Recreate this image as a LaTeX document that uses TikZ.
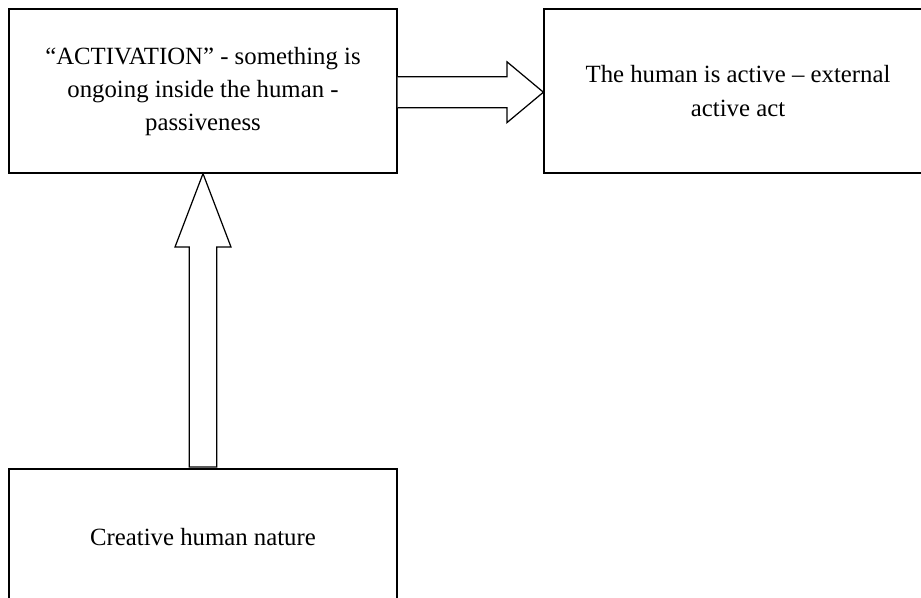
\documentclass[tikz,border=0pt]{standalone}
\usepackage{fontspec}
\setmainfont{Liberation Serif}
\usetikzlibrary{calc, positioning}

\tikzset{
  box/.style={draw, line width=0.7pt, minimum width=7.76cm, minimum height=3.28cm,
    align=center, font=\fontsize{14.1}{18.8}\selectfont},
  blockarrow/.style={draw, line width=0.7pt, fill=white, line join=miter}
}

\begin{document}
\begin{tikzpicture}
    \useasboundingbox (0,0) rectangle (18.42,-11.94);
    %箱を置く
    \node[box] (passive) at (4.06,-1.82) {\raisebox{0.1cm}{\begin{tabular}{@{}c@{}}``ACTIVATION'' - something is\\ ongoing inside the human -\\ passiveness\end{tabular}}};
    \node[box] (active) at (14.76,-1.82) {The human is active -- external\\ active act};
    \node[box, minimum height=2.72cm] (nature) at (4.06,-10.74) {Creative human nature};
    %横の矢印
    \coordinate (r1) at ($(passive.east)+(0,-0.024)$);
    \coordinate (r2) at ($(active.west)+(0,-0.024)$);
    \draw[blockarrow] ($(r1)+(0,0.31)$) -- ($(r2)+(-0.726,0.31)$) -- ($(r2)+(-0.726,0.606)$)
      -- (r2) -- ($(r2)+(-0.726,-0.606)$) -- ($(r2)+(-0.726,-0.31)$) -- ($(r1)+(0,-0.31)$);
    %縦の矢印
    \coordinate (u1) at (nature.north);
    \coordinate (u2) at (passive.south);
    \draw[blockarrow] ($(u1)+(-0.274,0.03)$) -- ($(u2)+(-0.274,-1.468)$) -- ($(u2)+(-0.56,-1.468)$)
      -- (u2) -- ($(u2)+(0.56,-1.468)$) -- ($(u2)+(0.274,-1.468)$) -- ($(u1)+(0.274,0.03)$) -- cycle;
\end{tikzpicture}
\end{document}
